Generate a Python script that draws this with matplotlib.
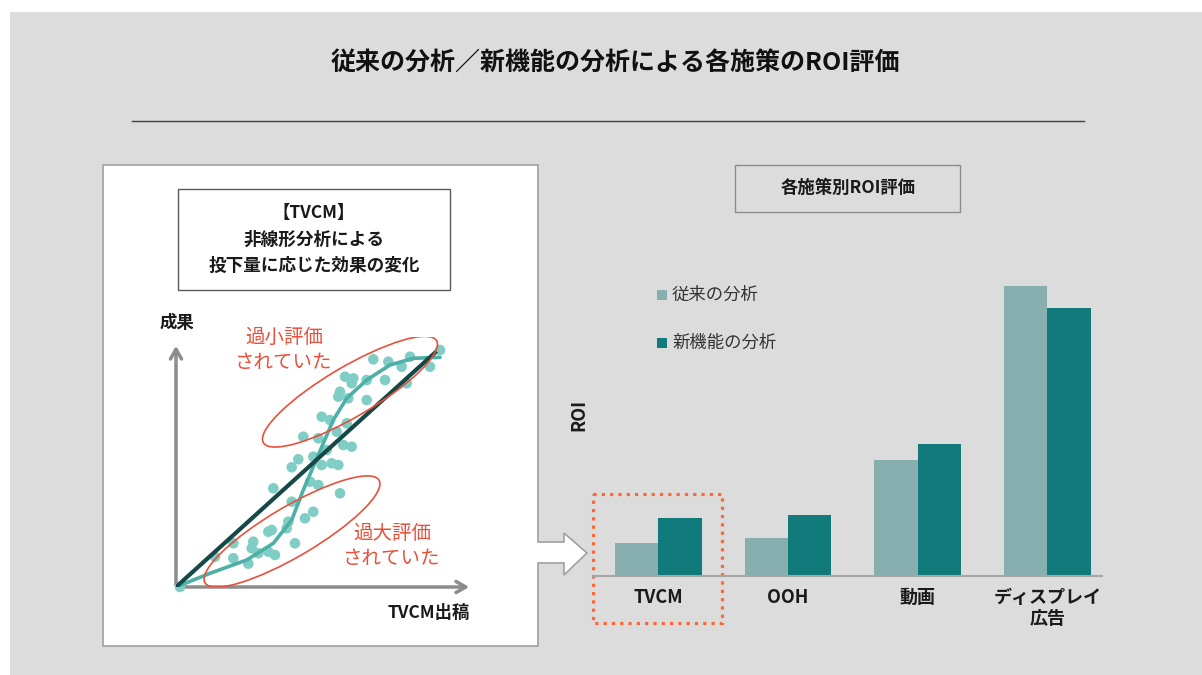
import numpy as np
import matplotlib
matplotlib.use('Agg')
import matplotlib.pyplot as plt
from matplotlib.patches import Rectangle, Polygon, Ellipse

plt.rcParams['font.family'] = ['Noto Sans CJK JP', 'DejaVu Sans']

# bar chart data (ROI in pixel heights)
categories = ['TVCM', 'OOH', '動画', 'ディスプレイ\n広告']
roi_old = [32.7, 38.3, 116, 290.3]
roi_new = [57.7, 60.7, 132.3, 267.7]
series_names = ['従来の分析', '新機能の分析']

# scatter data of the TVCM panel (offsets from the origin)
dots_x = [264, 254, 234, 225.7, 212.3, 209, 230.7, 197.3, 190.7, 177.3, 169, 175.7,
          164, 162.3, 172.3, 190.7, 145.7, 154, 170.7, 127.3, 142.3, 160.7, 167.3,
          175.7, 150.7, 137.3, 145.7, 155.7, 162.3, 122.3, 115.7, 134, 142.3, 97.3,
          164, 115.7, 129, 137.3, 112.3, 95.7, 92.3, 110.7, 119, 99, 92.3, 77.3,
          75.7, 72.3, 57.3, 57.3, 39, 82.3, 4]
dots_y = [237, 220.3, 230.3, 220.3, 225.3, 207, 203.7, 227.7, 207, 208.7, 210.3, 203.7,
          195.3, 190.3, 188.7, 187, 170.3, 167, 163.7, 150.3, 148.7, 155.3, 142,
          140.3, 137, 130.3, 122, 123.7, 122, 127.7, 119.7, 105.3, 102, 98.7,
          93.7, 85.3, 68.7, 75.3, 65.3, 57, 55.3, 58.7, 43.7, 32, 35.3, 45.3,
          38.7, 23.3, 43.7, 28.7, 30.3, 33.7, 0]
curve_x = [0, 34, 70.7, 97.3, 115.7, 127.3, 137.3, 147.3, 157.3, 170.7, 190.7, 214, 237.3, 264]
curve_y = [0, 13.7, 27, 43.7, 67, 97, 120.3, 143.7, 167, 188.7, 207, 222, 228.7, 229.7]
line_x = [0, 259]
line_y = [0, 234.3]

W, H = 1202, 675
fig = plt.figure(figsize=(W / 100, H / 100), dpi=100)
fig.patch.set_facecolor('white')

bg = fig.add_axes([0, 0, 1, 1])
bg.set_xlim(0, W)
bg.set_ylim(H, 0)
bg.axis('off')

grey_bg = '#dcdcdc'
bg.add_patch(Rectangle((10, 12), W - 10, H - 12, facecolor=grey_bg, edgecolor='none'))

# title and rule
bg.text(615, 63, '従来の分析／新機能の分析による各施策のROI評価', ha='center', va='center',
        fontsize=18, fontweight='bold', color='#111111')
bg.plot([132, 1084], [121, 121], color='#404040', lw=1)

# white panel with the arrow on its right side
panel = [(103, 165), (538, 165), (538, 542), (564, 542), (564, 533), (587, 553),
         (564, 575), (564, 563), (538, 563), (538, 646), (103, 646)]
bg.add_patch(Polygon(panel, closed=True, facecolor='white', edgecolor='#a0a0a0', lw=1.2))

bg.add_patch(Rectangle((178, 189), 272, 101, facecolor='white', edgecolor='#595959', lw=1))
bg.text(314, 213, '【TVCM】', ha='center', va='center', fontsize=12.5, fontweight='bold', color='#1a1a1a')
bg.text(314, 240, '非線形分析による', ha='center', va='center', fontsize=12.7, fontweight='bold', color='#1a1a1a')
bg.text(314, 266, '投下量に応じた効果の変化', ha='center', va='center', fontsize=12.7, fontweight='bold', color='#1a1a1a')

# axes arrows of the scatter
axis_grey = '#8c8c8c'
bg.annotate('', xy=(176, 343), xytext=(176, 588),
            arrowprops=dict(arrowstyle='->,head_length=0.7,head_width=0.4', color=axis_grey, lw=2.5))
bg.annotate('', xy=(472, 587), xytext=(175, 587),
            arrowprops=dict(arrowstyle='->,head_length=0.7,head_width=0.4', color=axis_grey, lw=2.5))
bg.text(177, 323, '成果', ha='center', va='center', fontsize=12.5, fontweight='bold', color='#1a1a1a')
bg.text(429, 613, 'TVCM出稿', ha='center', va='center', fontsize=12.5, fontweight='bold', color='#1a1a1a')

red = '#e8503c'
bg.text(284, 350, '過小評価\nされていた', ha='center', va='center', fontsize=14, color=red, linespacing=1.2)
bg.text(392, 546, '過大評価\nされていた', ha='center', va='center', fontsize=14, color=red, linespacing=1.2)

# scatter panel
sc = fig.add_axes([176 / W, (H - 587) / H, 300 / W, 250 / H])
sc.set_xlim(0, 300)
sc.set_ylim(0, 250)
sc.axis('off')
sc.scatter(dots_x, dots_y, s=58, color='#7fcdc5', edgecolors='none', zorder=2, clip_on=False)
sc.plot(curve_x, curve_y, color='#4cb0a6', lw=2.6, zorder=3, solid_capstyle='round')
sc.plot(line_x, line_y, color='#174848', lw=3, zorder=4)
sc.add_patch(Ellipse((174, 195.3), 201, 50, angle=30.5, fill=False, edgecolor=red, lw=1.2, zorder=5))
sc.add_patch(Ellipse((116, 55.5), 202, 50, angle=30.5, fill=False, edgecolor=red, lw=1.2, zorder=5))

# right side
bg.add_patch(Rectangle((735, 165), 225, 47, facecolor=grey_bg, edgecolor='#8c8c8c', lw=1))
bg.text(848, 188, '各施策別ROI評価', ha='center', va='center', fontsize=12.5, fontweight='bold', color='#1a1a1a')

light = '#88afb0'
dark = '#117a7a'
ax = fig.add_axes([593 / W, (H - 576) / H, (1102 - 593) / W, 300 / H])
ax.patch.set_alpha(0)
x = np.arange(len(categories))
bw = 0.334
ax.bar(x - bw / 2, roi_old, width=bw, color=light, label=series_names[0])
ax.bar(x + bw / 2, roi_new, width=bw, color=dark, label=series_names[1])
ax.set_xlim((593 - 658.3) / 129.7, (1102 - 658.3) / 129.7)
ax.set_ylim(0, 300)
for s in ['top', 'right', 'left']:
    ax.spines[s].set_visible(False)
ax.spines['bottom'].set_color('#a6a6a6')
ax.spines['bottom'].set_linewidth(1.5)
ax.set_yticks([])
ax.set_xticks(x)
ax.set_xticklabels(categories, fontsize=13, fontweight='bold', color='#1a1a1a', linespacing=1.15)
ax.tick_params(axis='x', length=0, pad=8.5)

# legend
for i, (name, col) in enumerate(zip(series_names, [light, dark])):
    yy = 295 + i * 47.5
    bg.add_patch(Rectangle((657, yy - 5), 10, 10, facecolor=col, edgecolor='none'))
    bg.text(672, yy, name, ha='left', va='center', fontsize=12.5, color='#333333')

bg.text(579, 415, 'ROI', ha='center', va='center', rotation=90, fontsize=13, fontweight='bold', color='#1a1a1a')

# dotted highlight around TVCM
bg.add_patch(Rectangle((593, 494), 129, 129, fill=False, edgecolor='#ff6633', lw=2.3,
                       linestyle=(0, (1, 1.6))))

fig.savefig('out.png', dpi=100, facecolor=fig.get_facecolor())
